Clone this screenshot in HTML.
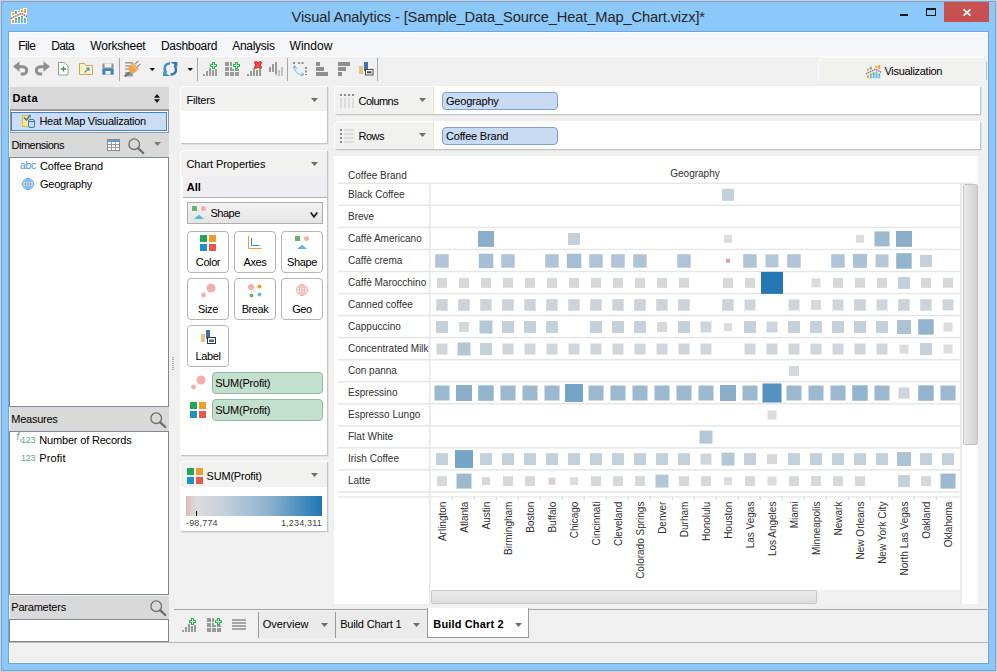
<!DOCTYPE html>
<html lang="en"><head><meta charset="utf-8"><title>Visual Analytics</title>
<style>
*{box-sizing:border-box;margin:0;padding:0}
html,body{width:997px;height:672px;overflow:hidden}
body{position:relative;background:#8cc8fa;font-family:"Liberation Sans",sans-serif;font-size:11px;color:#000}
.a{position:absolute}
.t{position:absolute;white-space:nowrap;line-height:1}
svg{position:absolute;overflow:visible}
</style></head>
<body>
<div class="a" style="left:0px;top:0px;width:997px;height:672px;border:1px solid #d3d0cb;"></div>
<div class="a" style="left:1px;top:1px;width:995px;height:670px;border:1px solid #6fa5dc;"></div>
<div class="a" style="left:8px;top:31px;width:981px;height:633px;border:1px solid #6fa5dc;background:#fff;"></div>
<div class="a" style="left:9px;top:32px;width:979px;height:631px;background:#f0f0f0;border-left:1px solid #fcfcfc;border-right:1px solid #faf7f3;border-bottom:1px solid #f8f8f8;"></div>
<div class="a" style="left:9px;top:32px;width:979px;height:24px;background:#f5f6f7;border-left:1px solid #fdfdfd;border-top:1px solid #fdfdfd;"></div>
<div class="a" style="left:9px;top:56px;width:975px;height:1px;background:#fafafa;"></div>
<div class="t" style="left:291.5px;top:9.5px;font-size:14.7px;letter-spacing:-0.14px;color:#262626;">Visual Analytics - [Sample_Data_Source_Heat_Map_Chart.vizx]*</div>
<div class="a" style="left:944px;top:2px;width:45px;height:20px;background:#c75050;"></div>
<svg style="left:963px;top:9px" width="8" height="7" viewBox="0 0 8 7"><path d="M0.600 0.300L7.400 6.700M7.400 0.300L0.600 6.700" stroke="#fff" stroke-width="1.700" fill="none"/></svg>
<div class="a" style="left:926px;top:8px;width:10px;height:8px;border:1px solid #1a1a1a;border-top-width:2px;"></div>
<div class="a" style="left:900px;top:14px;width:8px;height:2px;background:#1a1a1a;"></div>
<div class="t" style="left:18.3px;top:39.5px;font-size:12px;letter-spacing:-0.6px;">File</div>
<div class="t" style="left:51.2px;top:39.5px;font-size:12px;letter-spacing:-0.65px;">Data</div>
<div class="t" style="left:90.3px;top:39.5px;font-size:12px;letter-spacing:-0.22px;">Worksheet</div>
<div class="t" style="left:161px;top:39.5px;font-size:12px;letter-spacing:-0.3px;">Dashboard</div>
<div class="t" style="left:232.3px;top:39.5px;font-size:12px;letter-spacing:-0.3px;">Analysis</div>
<div class="t" style="left:289.5px;top:39.5px;font-size:12px;letter-spacing:0.05px;">Window</div>
<svg style="left:11px;top:8px" width="16.0" height="16.0" viewBox="0 0 16 16">
<path d="M0 4H3V2H7V4H9V1H12V0H16V16H0Z" fill="#fdf9f2"/>
<rect x="1" y="5" width="2" height="2" fill="#fca311"/><rect x="1" y="12" width="2" height="3" fill="#fca311"/>
<rect x="4" y="3" width="2" height="2.800" fill="#5fae57"/><rect x="4" y="10.200" width="2" height="1.800" fill="#5fae57"/><rect x="4" y="12" width="2" height="3" fill="#5bc0f8"/>
<rect x="7" y="9" width="2" height="3" fill="#5fae57"/><rect x="7" y="12" width="2" height="3" fill="#5bc0f8"/>
<rect x="10" y="2" width="2" height="2" fill="#fca311"/><rect x="10" y="8" width="2" height="1" fill="#5fae57"/><rect x="10" y="9" width="2" height="6" fill="#5bc0f8"/>
<rect x="13" y="1" width="2" height="4" fill="#fca311"/><rect x="13" y="10.200" width="2" height="1.800" fill="#5fae57"/><rect x="13" y="12" width="2" height="3" fill="#5bc0f8"/>
<path d="M0 10.500L10 5.500L16 8.500" stroke="#f7b9a3" stroke-width="1.500" fill="none"/>
<path d="M0 10.500L10 5.500L16 8.500" stroke="#8068cf" stroke-width="1.500" fill="none" stroke-dasharray="1.200 1.200"/>
</svg>
<svg style="left:0;top:0" width="997" height="90" viewBox="0 0 997 90"><path d="M13 66.500L19.500 61.200V71.800z" fill="#8e8e8e"/><path d="M19 66.700H23a3.700 3.700 0 0 1 0 7.400H20.800" fill="none" stroke="#8e8e8e" stroke-width="3"/><path d="M50 66.500L43.500 61.200V71.800z" fill="#8e8e8e"/><path d="M44 66.700H40a3.700 3.700 0 0 0 0 7.400H42.200" fill="none" stroke="#8e8e8e" stroke-width="3"/><path d="M58.5 62.5h6l3.5 3.5v9h-9.500z" fill="#fff" stroke="#9a9a9a"/><path d="M61 69h5M63.500 66.500v5" stroke="#2e9b3e" stroke-width="1.3"/><path d="M79.500 74.500v-11h5l1.500 2h6.500v9z" fill="#fdf3c4" stroke="#c9a45c"/><path d="M84.500 72.500l4.500-4.500m-3 0h3v3" stroke="#3d8fd0" fill="none" stroke-width="1.1"/><path d="M102.500 63.500h11v11h-11z" fill="#8e8e8e"/><rect x="104.500" y="63.500" width="7" height="4" fill="#f0f0f0"/><rect x="102.500" y="69" width="11" height="5.500" fill="#3a86c8"/><rect x="105.500" y="71" width="5" height="3.500" fill="#f0f0f0"/><rect x="119" y="58" width="1" height="23" fill="#a8a8a8"/><rect x="197" y="58" width="1" height="23" fill="#a8a8a8"/><rect x="287" y="58" width="1" height="23" fill="#a8a8a8"/><rect x="377" y="58" width="1" height="23" fill="#a8a8a8"/><g transform="translate(124,61)"><path d="M1.200 1.800h7.600M1.200 4.900h6M1.200 8h4" stroke="#9a9a9a" stroke-width="1.500"/><rect x="1.200" y="11" width="7.600" height="4.500" fill="#9a9a9a"/><path d="M0.500 15.500L6.500 11" stroke="#6a6a6a" stroke-width="1.600"/><path d="M11 3.200l3.200-3.200M13.400 6l3-3.200" stroke="#8a8a8a" stroke-width="1.100"/><path d="M4.200 7.200L9 1.300 14.800 8 9.800 12.300 6 12z" fill="#eea44e"/><path d="M7.800 3.200L13.200 9.400" stroke="#f6cf9a" stroke-width="1"/><rect x="5.600" y="11.600" width="1.200" height="1.200" fill="#2ecc40"/></g><path d="M149.500 68h5.500l-2.750 3z" fill="#111"/><g fill="none" stroke-width="2.500"><path d="M170 63.500C166.800 63 164.300 65.600 164.600 68.800C164.700 70.400 165.300 71.800 166.300 72.800" stroke="#3f8fcc"/><path d="M170.600 74.500C173.800 75 176.300 72.400 176 69.200C175.900 67.600 175.300 66.200 174.300 65.200" stroke="#2f7ab8"/><path d="M163.200 71.200V76H170z" fill="#3f8fcc" stroke="none"/><path d="M177.400 66.800V62H170.600z" fill="#2f7ab8" stroke="none"/></g><path d="M187.500 68h5.500l-2.750 3z" fill="#111"/><g transform="translate(203,62)"><rect x="0" y="12" width="2" height="2" fill="#9a9a9a"/><rect x="3" y="9" width="2" height="5" fill="#9a9a9a"/><rect x="6" y="6" width="2" height="8" fill="#9a9a9a"/><rect x="9" y="8" width="2" height="6" fill="#9a9a9a"/><rect x="12" y="7" width="2" height="7" fill="#9a9a9a"/></g><g transform="translate(210,62)"><path d="M2 0h3v2h2v3h-2v2h-3v-2h-2v-3h2z" fill="#1ebd48"/><path d="M3 1h1v2h2v1h-2v2h-1v-2h-2v-1h2z" fill="#dcffe2"/></g><g transform="translate(225,62)"><rect x="0" y="0" width="4" height="4" fill="#9a9a9a"/><rect x="0" y="5" width="4" height="4" fill="#9a9a9a"/><rect x="0" y="10" width="4" height="4" fill="#9a9a9a"/><rect x="5" y="0" width="4" height="4" fill="#9a9a9a"/><rect x="5" y="5" width="4" height="4" fill="#9a9a9a"/><rect x="5" y="10" width="4" height="4" fill="#9a9a9a"/><rect x="10" y="0" width="4" height="4" fill="#9a9a9a"/><rect x="10" y="5" width="4" height="4" fill="#9a9a9a"/><rect x="10" y="10" width="4" height="4" fill="#9a9a9a"/></g><rect x="232" y="61" width="8" height="8" fill="#f0f0f0"/><g transform="translate(233,62)"><path d="M2 0h3v2h2v3h-2v2h-3v-2h-2v-3h2z" fill="#1ebd48"/><path d="M3 1h1v2h2v1h-2v2h-1v-2h-2v-1h2z" fill="#dcffe2"/></g><g transform="translate(247,62)"><rect x="0" y="12" width="2" height="2" fill="#9a9a9a"/><rect x="3" y="9" width="2" height="5" fill="#9a9a9a"/><rect x="6" y="6" width="2" height="8" fill="#9a9a9a"/><rect x="9" y="8" width="2" height="6" fill="#9a9a9a"/><rect x="12" y="7" width="2" height="7" fill="#9a9a9a"/></g><g transform="translate(254.500,61.500)"><path d="M0.300 0.300h1.900l1.300 1.300 1.300-1.300h1.900v1.900l-1.300 1.300 1.300 1.300v1.900h-1.900l-1.300-1.300-1.300 1.300h-1.900v-1.900l1.300-1.300-1.300-1.300z" fill="#ff4a42" stroke="#c8140e" stroke-width=".9"/></g><g transform="translate(269,62)"><rect x="0" y="5" width="2" height="5" fill="#9a9a9a"/><rect x="3" y="2" width="2" height="8" fill="#9a9a9a"/><rect x="6" y="0" width="2" height="12" fill="#9a9a9a"/><rect x="6" y="12" width="2" height="2" fill="#cfcfcf"/><rect x="9" y="8" width="2" height="6" fill="#c4c4c4"/><rect x="12" y="5" width="2" height="9" fill="#c4c4c4"/></g><g transform="translate(293,62)"><path d="M0 1h2M5 1h6" stroke="#8e8e8e" stroke-width="2" stroke-dasharray="2 1.500"/><path d="M13 5v8" stroke="#8e8e8e" stroke-width="2" stroke-dasharray="2 1.500"/><path d="M1.500 4 C1.500 10 5 13 10.500 12.500" stroke="#64aee6" fill="none" stroke-width="0.900"/><path d="M0 6.500L1.500 3.500 3.500 6.500M8.500 10.500l2.500 2-3 1.500" stroke="#64aee6" fill="none" stroke-width="0.900"/></g><g transform="translate(316,62)" fill="#8e8e8e"><rect x="0" y="0" width="4" height="4"/><rect x="0" y="5" width="8" height="4"/><rect x="0" y="10" width="12" height="4"/></g><g transform="translate(338,62)" fill="#8e8e8e"><rect x="0" y="0" width="12" height="4"/><rect x="0" y="5" width="8" height="4"/><rect x="0" y="10" width="4" height="4"/></g><g transform="translate(359,62)"><rect x="0" y="4" width="4" height="8" fill="#ecc37e"/><rect x="5" y="0" width="4" height="9" fill="#3a72b0"/><rect x="6.500" y="7.500" width="7.500" height="5.500" fill="#fff" stroke="#3a3a3a" stroke-width="0.900"/><rect x="8" y="9.200" width="4.500" height="2.200" fill="#555"/></g></svg>
<div class="a" style="left:818px;top:57px;width:170px;height:24px;background:#f1f1f0;border:1px solid #fbfbfb;border-right:none;border-bottom:none;border-radius:6px 4px 0 0;"></div>
<div class="a" style="left:986px;top:62px;width:1px;height:18px;background:#c2c2c2;"></div>
<svg style="left:865.5px;top:63.5px" width="15.2" height="15.2" viewBox="0 0 16 16">
<path d="M0 4H3V2H7V4H9V1H12V0H16V16H0Z" fill="none"/>
<rect x="1" y="5" width="2" height="2" fill="#fca311"/><rect x="1" y="12" width="2" height="3" fill="#fca311"/>
<rect x="4" y="3" width="2" height="2.800" fill="#5fae57"/><rect x="4" y="10.200" width="2" height="1.800" fill="#5fae57"/><rect x="4" y="12" width="2" height="3" fill="#5bc0f8"/>
<rect x="7" y="9" width="2" height="3" fill="#5fae57"/><rect x="7" y="12" width="2" height="3" fill="#5bc0f8"/>
<rect x="10" y="2" width="2" height="2" fill="#fca311"/><rect x="10" y="8" width="2" height="1" fill="#5fae57"/><rect x="10" y="9" width="2" height="6" fill="#5bc0f8"/>
<rect x="13" y="1" width="2" height="4" fill="#fca311"/><rect x="13" y="10.200" width="2" height="1.800" fill="#5fae57"/><rect x="13" y="12" width="2" height="3" fill="#5bc0f8"/>
<path d="M0 10.500L10 5.500L16 8.500" stroke="#f7b9a3" stroke-width="1.500" fill="none"/>
<path d="M0 10.500L10 5.500L16 8.500" stroke="#8068cf" stroke-width="1.500" fill="none" stroke-dasharray="1.200 1.200"/>
</svg>
<div class="t" style="left:884.5px;top:66.2px;font-size:11px;letter-spacing:-0.3px;">Visualization</div>
<div class="a" style="left:10px;top:87px;width:159px;height:23px;background:#d9d9d9;border-bottom:1px solid #9c9c9c;"></div>
<div class="t" style="left:12.5px;top:92.7px;font-size:11px;font-weight:bold;letter-spacing:0.4px;">Data</div>
<svg style="left:154.400px;top:93.600px" width="6" height="9" viewBox="0 0 6 9"><path d="M0 3.700L3 0 6 3.700zM0 5.300L3 9 6 5.300z" fill="#111"/></svg>
<div class="a" style="left:10px;top:110px;width:159px;height:23px;background:#fdfdfd;border:1px solid #8f96a0;"></div>
<div class="a" style="left:11px;top:112px;width:156px;height:19px;background:#cbdcf4;border:1px solid #3f7fd6;"></div>
<svg style="left:22px;top:114px" width="14" height="14" viewBox="0 0 14 14"><rect x="0.500" y="1.500" width="8" height="11" fill="#fbe88a" stroke="#d8bf4a"/><path d="M2 3.500l2.500 2.500 4-5" stroke="#2f6fb8" stroke-width="1.400" fill="none"/><rect x="6.500" y="5.500" width="6" height="8" rx="1.500" fill="#c9dcf2" stroke="#3d78b8"/><path d="M6.500 7.500h6" stroke="#3d78b8"/></svg>
<div class="t" style="left:39.4px;top:116px;font-size:11px;letter-spacing:-0.26px;">Heat Map Visualization</div>
<div class="a" style="left:10px;top:133px;width:159px;height:24px;background:#d9d9d9;"></div>
<div class="t" style="left:11.5px;top:140.2px;font-size:11px;letter-spacing:-0.5px;">Dimensions</div>
<svg style="left:107px;top:139px" width="13" height="12" viewBox="0 0 13 12"><rect x="0.500" y="0.500" width="12" height="11" fill="#fff" stroke="#8a8a8a"/><rect x="1" y="1" width="11" height="2" fill="#5b9bd5"/><path d="M1 5.500h11M1 8.500h11M4.500 3v8.500M8.500 3v8.500" stroke="#9a9a9a"/></svg>
<svg style="left:127.89999999999999px;top:138.10000000000002px" width="17" height="17" viewBox="0 0 17 17"><circle cx="6.200" cy="6.200" r="5.300" fill="none" stroke="#6e6e6e" stroke-width="1.300"/><path d="M10.300 10.300L15.200 15" stroke="#6e6e6e" stroke-width="2.300" stroke-linecap="round"/></svg>
<svg style="left:154.0px;top:142.0px" width="7" height="4.0" viewBox="0 0 7 4.0"><path d="M0 0h7l-3.5 4.0z" fill="#7a7a7a"/></svg>
<div class="a" style="left:9px;top:157px;width:160px;height:250px;background:#fff;border:1px solid #7f8896;"></div>
<div class="t" style="left:20px;top:160px;font-size:10.5px;color:#4a90d9;letter-spacing:-0.3px;">abc</div>
<div class="t" style="left:40px;top:161px;font-size:11px;letter-spacing:-0.13px;">Coffee Brand</div>
<svg style="left:22px;top:178px" width="12" height="12" viewBox="0 0 12 12"><circle cx="6" cy="6" r="5.500" fill="#eaf2fb" stroke="#5b9bd5" stroke-width=".9"/><ellipse cx="6" cy="6" rx="2.500" ry="5.500" fill="none" stroke="#5b9bd5" stroke-width=".8"/><path d="M0.500 6h11M1.500 3.200h9M1.500 8.800h9M6 .5v11" stroke="#5b9bd5" stroke-width=".8"/></svg>
<div class="t" style="left:40px;top:179px;font-size:11px;letter-spacing:-0.27px;">Geography</div>
<div class="a" style="left:10px;top:407px;width:159px;height:24px;background:#d9d9d9;"></div>
<div class="t" style="left:11.3px;top:413.7px;font-size:11px;letter-spacing:-0.26px;">Measures</div>
<svg style="left:149.8px;top:411.7px" width="17" height="17" viewBox="0 0 17 17"><circle cx="6.200" cy="6.200" r="5.300" fill="none" stroke="#6e6e6e" stroke-width="1.300"/><path d="M10.300 10.300L15.200 15" stroke="#6e6e6e" stroke-width="2.300" stroke-linecap="round"/></svg>
<div class="a" style="left:9px;top:431px;width:160px;height:164px;background:#fff;border:1px solid #7f8896;"></div>
<div class="t" style="left:16.5px;top:432px;font-size:10px;color:#6ea48c;font-style:italic;">f</div>
<div class="t" style="left:19.5px;top:436.5px;font-size:6px;color:#6ea48c;">x</div>
<div class="t" style="left:21px;top:436px;font-size:9px;color:#6ea48c;letter-spacing:-0.300px;">123</div>
<div class="t" style="left:39.3px;top:435.2px;font-size:11px;letter-spacing:-0.18px;">Number of Records</div>
<div class="t" style="left:21px;top:454px;font-size:9px;color:#6ea48c;letter-spacing:-0.300px;">123</div>
<div class="t" style="left:39.3px;top:453px;font-size:11px;letter-spacing:0.1px;">Profit</div>
<div class="a" style="left:10px;top:596px;width:159px;height:23px;background:#d9d9d9;"></div>
<div class="t" style="left:11.3px;top:602px;font-size:11px;letter-spacing:-0.22px;">Parameters</div>
<svg style="left:149.8px;top:600.1999999999999px" width="17" height="17" viewBox="0 0 17 17"><circle cx="6.200" cy="6.200" r="5.300" fill="none" stroke="#6e6e6e" stroke-width="1.300"/><path d="M10.300 10.300L15.200 15" stroke="#6e6e6e" stroke-width="2.300" stroke-linecap="round"/></svg>
<div class="a" style="left:9px;top:619px;width:160px;height:23px;background:#fff;border:1px solid #7f8896;"></div>
<div class="a" style="left:172px;top:356px;width:2px;height:14px;background:repeating-linear-gradient(#f0f0f0 0 1px,#b0b0b0 1px 2px);"></div>
<div class="a" style="left:180px;top:86px;width:147px;height:57px;background:#fff;border-radius:5px 0 0 0;box-shadow:1px 1px 0 #c4c4c4, 2px 2px 0 #e4e4e4;"></div><div class="a" style="left:180px;top:86px;width:147px;height:25px;background:#f1f1f0;border-radius:5px 0 0 0;border-top:1px solid #fdfdfd;border-left:1px solid #fdfdfd;"></div>
<div class="t" style="left:186.5px;top:95.2px;font-size:11px;letter-spacing:-0.2px;">Filters</div>
<svg style="left:311.0px;top:97.5px" width="7" height="4.0" viewBox="0 0 7 4.0"><path d="M0 0h7l-3.5 4.0z" fill="#6e6e6e"/></svg>
<div class="a" style="left:180px;top:150px;width:147px;height:305px;background:#fff;border-radius:5px 0 0 0;box-shadow:1px 1px 0 #c4c4c4, 2px 2px 0 #e4e4e4;"></div><div class="a" style="left:180px;top:150px;width:147px;height:26px;background:#f1f1f0;border-radius:5px 0 0 0;border-top:1px solid #fdfdfd;border-left:1px solid #fdfdfd;"></div>
<div class="t" style="left:186.5px;top:158.7px;font-size:11px;letter-spacing:-0.08px;">Chart Properties</div>
<svg style="left:311.0px;top:161.5px" width="7" height="4.0" viewBox="0 0 7 4.0"><path d="M0 0h7l-3.5 4.0z" fill="#6e6e6e"/></svg>
<div class="a" style="left:183px;top:176px;width:144px;height:22px;background:#eeeef2;border-bottom:1px solid #b4b4b4;"></div>
<div class="t" style="left:186.8px;top:181.5px;font-size:11px;font-weight:bold;">All</div>
<div class="a" style="left:187px;top:202px;width:136px;height:22px;background:linear-gradient(#f3f3f3,#e4e4e4);border:1px solid #adadad;"></div>
<svg style="left:191px;top:205px" width="16" height="16" viewBox="0 0 16 16"><rect x="1" y="1" width="5" height="5" fill="#6ab36a"/><circle cx="12.500" cy="3.500" r="2.500" fill="#f3b0aa"/><path d="M3 14h10l-5-4.300z" fill="#5bb5e8"/></svg>
<div class="t" style="left:210.5px;top:207.7px;font-size:11px;letter-spacing:-0.5px;">Shape</div>
<svg style="left:309.500px;top:211.500px" width="8" height="6" viewBox="0 0 8 6"><path d="M0.700 0.500L4 4.700 7.300 0.500" stroke="#222" stroke-width="1.800" fill="none"/></svg>
<div class="a" style="left:187px;top:231px;width:42px;height:42px;background:#fff;border:1px solid #b4b4b4;border-radius:4px;"></div>
<div class="t" style="left:187px;top:257.1px;font-size:11px;width:42px;text-align:center;letter-spacing:-0.4px;">Color</div>
<div class="a" style="left:200px;top:235px;width:7.0px;height:7.0px;background:#1fa859;"></div><div class="a" style="left:209.0px;top:235px;width:7.0px;height:7.0px;background:#f39a2b;"></div><div class="a" style="left:200px;top:244.0px;width:7.0px;height:7.0px;background:#1b93c9;"></div><div class="a" style="left:209.0px;top:244.0px;width:7.0px;height:7.0px;background:#e8584a;"></div>
<div class="a" style="left:234px;top:231px;width:42px;height:42px;background:#fff;border:1px solid #b4b4b4;border-radius:4px;"></div>
<div class="t" style="left:234px;top:257.1px;font-size:11px;width:42px;text-align:center;letter-spacing:-0.4px;">Axes</div>
<svg style="left:248px;top:236px" width="14" height="13" viewBox="0 0 14 13"><path d="M0.500 0v12.500h13" stroke="#f39a2b" fill="none"/><path d="M3.500 2v7.500h8" stroke="#1b93c9" fill="none"/></svg>
<div class="a" style="left:281px;top:231px;width:42px;height:42px;background:#fff;border:1px solid #b4b4b4;border-radius:4px;"></div>
<div class="t" style="left:281px;top:257.1px;font-size:11px;width:42px;text-align:center;letter-spacing:-0.4px;">Shape</div>
<svg style="left:294px;top:235px" width="16" height="16" viewBox="0 0 16 16"><rect x="1" y="1" width="5" height="5" fill="#6ab36a"/><circle cx="12.500" cy="3.500" r="2.500" fill="#f3b0aa"/><path d="M3 14h10l-5-4.300z" fill="#5bb5e8"/></svg>
<div class="a" style="left:187px;top:278px;width:42px;height:42px;background:#fff;border:1px solid #b4b4b4;border-radius:4px;"></div>
<div class="t" style="left:187px;top:304.1px;font-size:11px;width:42px;text-align:center;letter-spacing:-0.4px;">Size</div>
<svg style="left:199.7px;top:281.5px" width="17" height="17" viewBox="0 0 17 17"><circle cx="11" cy="6" r="4.500" fill="#f3b0aa"/><circle cx="3.500" cy="13" r="2.400" fill="#f3b0aa"/></svg>
<div class="a" style="left:234px;top:278px;width:42px;height:42px;background:#fff;border:1px solid #b4b4b4;border-radius:4px;"></div>
<div class="t" style="left:234px;top:304.1px;font-size:11px;width:42px;text-align:center;letter-spacing:-0.4px;">Break</div>
<svg style="left:247px;top:282.5px" width="16" height="16" viewBox="0 0 16 16"><circle cx="4" cy="4" r="3" fill="#f3b0aa"/><circle cx="12.500" cy="3.500" r="2" fill="#f39a2b"/><circle cx="4.500" cy="12.500" r="2" fill="#6ab36a"/><circle cx="12.500" cy="11.500" r="2" fill="#6cb8f0"/><path d="M7 5l3-1M6 7l3 3M5 8v2" stroke="#aaa" stroke-width=".7" stroke-dasharray="1 1"/></svg>
<div class="a" style="left:281px;top:278px;width:42px;height:42px;background:#fff;border:1px solid #b4b4b4;border-radius:4px;"></div>
<div class="t" style="left:281px;top:304.1px;font-size:11px;width:42px;text-align:center;letter-spacing:-0.4px;">Geo</div>
<svg style="left:296px;top:284px" width="12" height="12" viewBox="0 0 12 12"><circle cx="6" cy="6" r="5.500" fill="#fff6f5" stroke="#f0a8a2" stroke-width=".9"/><ellipse cx="6" cy="6" rx="2.500" ry="5.500" fill="none" stroke="#f0a8a2" stroke-width=".8"/><path d="M0.500 6h11M1.500 3.200h9M1.500 8.800h9M6 .5v11" stroke="#f0a8a2" stroke-width=".8"/></svg>
<div class="a" style="left:187px;top:325px;width:42px;height:42px;background:#fff;border:1px solid #b4b4b4;border-radius:4px;"></div>
<div class="t" style="left:187px;top:351.1px;font-size:11px;width:42px;text-align:center;letter-spacing:-0.4px;">Label</div>
<svg style="left:201px;top:330px" width="15" height="15" viewBox="0 0 15 15"><rect x="0" y="4" width="4" height="8" fill="#ecc37e"/><rect x="5" y="0" width="4" height="9" fill="#3a72b0"/><rect x="6.500" y="7.500" width="8" height="6" fill="#fff" stroke="#333"/><rect x="8" y="9.500" width="5" height="2.500" fill="#3a72b0"/></svg>
<div class="a" style="left:212px;top:372px;width:111px;height:22px;background:#c3dfcd;border:1px solid #93b8a2;border-radius:4px;"></div>
<div class="t" style="left:215.2px;top:377.8px;font-size:11px;letter-spacing:-0.21px;">SUM(Profit)</div>
<div class="a" style="left:212px;top:399px;width:111px;height:22px;background:#c3dfcd;border:1px solid #93b8a2;border-radius:4px;"></div>
<div class="t" style="left:215.2px;top:404.8px;font-size:11px;letter-spacing:-0.21px;">SUM(Profit)</div>
<svg style="left:190px;top:374px" width="17" height="17" viewBox="0 0 17 17"><circle cx="11" cy="6" r="4.500" fill="#f3b0aa"/><circle cx="3.500" cy="13" r="2.400" fill="#f3b0aa"/></svg>
<div class="a" style="left:190px;top:402px;width:7.0px;height:7.0px;background:#1fa859;"></div><div class="a" style="left:199.0px;top:402px;width:7.0px;height:7.0px;background:#f39a2b;"></div><div class="a" style="left:190px;top:411.0px;width:7.0px;height:7.0px;background:#1b93c9;"></div><div class="a" style="left:199.0px;top:411.0px;width:7.0px;height:7.0px;background:#e8584a;"></div>
<div class="a" style="left:180px;top:461px;width:147px;height:70px;background:#fff;border-radius:5px 0 0 0;box-shadow:1px 1px 0 #c4c4c4, 2px 2px 0 #e4e4e4;"></div><div class="a" style="left:180px;top:461px;width:147px;height:26px;background:#f1f1f0;border-radius:5px 0 0 0;border-top:1px solid #fdfdfd;border-left:1px solid #fdfdfd;"></div>
<div class="a" style="left:187px;top:468px;width:7.0px;height:7.0px;background:#1fa859;"></div><div class="a" style="left:196.0px;top:468px;width:7.0px;height:7.0px;background:#f39a2b;"></div><div class="a" style="left:187px;top:477.0px;width:7.0px;height:7.0px;background:#1b93c9;"></div><div class="a" style="left:196.0px;top:477.0px;width:7.0px;height:7.0px;background:#e8584a;"></div>
<div class="t" style="left:206.6px;top:470.5px;font-size:11px;letter-spacing:-0.21px;">SUM(Profit)</div>
<svg style="left:311.0px;top:473.0px" width="7" height="4.0" viewBox="0 0 7 4.0"><path d="M0 0h7l-3.5 4.0z" fill="#6e6e6e"/></svg>
<div class="a" style="left:186px;top:496px;width:136px;height:20px;background:linear-gradient(90deg,#e0b8b3 0%,#dcd0cf 4%,#dcdcdc 8%,#c8d3dc 25%,#8fb3cf 60%,#1f77b4 100%);"></div>
<div class="a" style="left:196px;top:511px;width:1px;height:5px;background:#000;"></div>
<div class="t" style="left:186px;top:519px;font-size:9px;color:#444;letter-spacing:0.18px;">-98,774</div>
<div class="t" style="left:280.9px;top:519px;font-size:9px;color:#444;letter-spacing:0.19px;">1,234,311</div>
<div class="a" style="left:334px;top:86px;width:646px;height:28px;background:#fff;border-radius:5px 0 0 2px;box-shadow:1px 1px 0 #c4c4c4,2px 2px 0 #e4e4e4;"></div>
<div class="a" style="left:334px;top:86px;width:100px;height:28px;background:#f1f1f0;border-radius:5px 0 0 2px;border-right:1px solid #e9e6cf;border-top:1px solid #fdfdfd;border-left:1px solid #fdfdfd;"></div>
<div class="t" style="left:358.5px;top:96.3px;font-size:11px;letter-spacing:-0.54px;">Columns</div>
<svg style="left:418.7px;top:98.0px" width="7" height="4.0" viewBox="0 0 7 4.0"><path d="M0 0h7l-3.5 4.0z" fill="#6e6e6e"/></svg>
<div class="a" style="left:442px;top:92px;width:116px;height:17.5px;background:#c9daf3;border:1px solid #7f9fd2;border-radius:4px;"></div>
<div class="t" style="left:446px;top:96.2px;font-size:11px;letter-spacing:-0.2px;">Geography</div>
<div class="a" style="left:334px;top:121px;width:646px;height:28px;background:#fff;border-radius:5px 0 0 2px;box-shadow:1px 1px 0 #c4c4c4,2px 2px 0 #e4e4e4;"></div>
<div class="a" style="left:334px;top:121px;width:100px;height:28px;background:#f1f1f0;border-radius:5px 0 0 2px;border-right:1px solid #e9e6cf;border-top:1px solid #fdfdfd;border-left:1px solid #fdfdfd;"></div>
<div class="t" style="left:358.5px;top:131.3px;font-size:11px;letter-spacing:-0.54px;">Rows</div>
<svg style="left:418.7px;top:133.0px" width="7" height="4.0" viewBox="0 0 7 4.0"><path d="M0 0h7l-3.5 4.0z" fill="#6e6e6e"/></svg>
<div class="a" style="left:442px;top:127px;width:116px;height:17.5px;background:#c9daf3;border:1px solid #7f9fd2;border-radius:4px;"></div>
<div class="t" style="left:446px;top:131.2px;font-size:11px;letter-spacing:-0.2px;">Coffee Brand</div>
<svg style="left:340px;top:94px" width="14" height="14" viewBox="0 0 14 14"><path d="M0 0h2v2h-2zM4 0h2v2h-2zM8 0h2v2h-2zM12 0h2v2h-2z" fill="#8e8e8e"/><path d="M0 4h2v10h-2zM4 4h2v10h-2zM8 4h2v10h-2zM12 4h2v10h-2z" fill="#dcdcdc"/></svg>
<svg style="left:340px;top:129px" width="14" height="14" viewBox="0 0 14 14"><path d="M0 0h2v2h-2zM0 4h2v2h-2zM0 8h2v2h-2zM0 12h2v2h-2z" fill="#8e8e8e"/><path d="M4 0h10v2h-10zM4 4h10v2h-10zM4 8h10v2h-10zM4 12h10v2h-10z" fill="#dcdcdc"/></svg>
<div class="a" style="left:334px;top:156px;width:644px;height:448px;background:#fff;"></div>
<svg style="left:0;top:0" width="997" height="672" viewBox="0 0 997 672" font-family="Liberation Sans, sans-serif" font-size="10" fill="#303030"><rect x="338" y="182.6" width="635" height="1.500" fill="#e6e6e6"/><rect x="338" y="204.64" width="623" height="1.500" fill="#e6e6e6"/><rect x="338" y="226.68" width="623" height="1.500" fill="#e6e6e6"/><rect x="338" y="248.72" width="623" height="1.500" fill="#e6e6e6"/><rect x="338" y="270.76" width="623" height="1.500" fill="#e6e6e6"/><rect x="338" y="292.8" width="623" height="1.500" fill="#e6e6e6"/><rect x="338" y="314.84" width="623" height="1.500" fill="#e6e6e6"/><rect x="338" y="336.88" width="623" height="1.500" fill="#e6e6e6"/><rect x="338" y="358.92" width="623" height="1.500" fill="#e6e6e6"/><rect x="338" y="380.96" width="623" height="1.500" fill="#e6e6e6"/><rect x="338" y="403.0" width="623" height="1.500" fill="#e6e6e6"/><rect x="338" y="425.04" width="623" height="1.500" fill="#e6e6e6"/><rect x="338" y="447.08" width="623" height="1.500" fill="#e6e6e6"/><rect x="338" y="469.12" width="623" height="1.500" fill="#e6e6e6"/><rect x="338" y="491.16" width="623" height="1.500" fill="#e6e6e6"/><rect x="429" y="183" width="1.500" height="422" fill="#e6e6e6"/><rect x="338" y="496.300" width="623" height="1.200" fill="#e6e6e6"/><rect x="960" y="183" width="2" height="421" fill="#eaeaea"/><rect x="451.7" y="496.500" width="1.100" height="4" fill="#dedede"/><rect x="473.7" y="496.500" width="1.100" height="4" fill="#dedede"/><rect x="495.7" y="496.500" width="1.100" height="4" fill="#dedede"/><rect x="517.7" y="496.500" width="1.100" height="4" fill="#dedede"/><rect x="539.7" y="496.500" width="1.100" height="4" fill="#dedede"/><rect x="561.7" y="496.500" width="1.100" height="4" fill="#dedede"/><rect x="583.7" y="496.500" width="1.100" height="4" fill="#dedede"/><rect x="605.7" y="496.500" width="1.100" height="4" fill="#dedede"/><rect x="627.7" y="496.500" width="1.100" height="4" fill="#dedede"/><rect x="649.7" y="496.500" width="1.100" height="4" fill="#dedede"/><rect x="671.7" y="496.500" width="1.100" height="4" fill="#dedede"/><rect x="693.7" y="496.500" width="1.100" height="4" fill="#dedede"/><rect x="715.7" y="496.500" width="1.100" height="4" fill="#dedede"/><rect x="737.7" y="496.500" width="1.100" height="4" fill="#dedede"/><rect x="759.7" y="496.500" width="1.100" height="4" fill="#dedede"/><rect x="781.7" y="496.500" width="1.100" height="4" fill="#dedede"/><rect x="803.7" y="496.500" width="1.100" height="4" fill="#dedede"/><rect x="825.7" y="496.500" width="1.100" height="4" fill="#dedede"/><rect x="847.7" y="496.500" width="1.100" height="4" fill="#dedede"/><rect x="869.7" y="496.500" width="1.100" height="4" fill="#dedede"/><rect x="891.7" y="496.500" width="1.100" height="4" fill="#dedede"/><rect x="913.7" y="496.500" width="1.100" height="4" fill="#dedede"/><rect x="935.7" y="496.500" width="1.100" height="4" fill="#dedede"/><text x="348" y="179">Coffee Brand</text><text x="695" y="177" text-anchor="middle">Geography</text><text x="348" y="198.3">Black Coffee</text><text x="348" y="220.3">Breve</text><text x="348" y="242.3">Caffè Americano</text><text x="348" y="264.3">Caffè crema</text><text x="348" y="286.3">Caffè Marocchino</text><text x="348" y="308.3">Canned coffee</text><text x="348" y="330.3">Cappuccino</text><text x="348" y="352.3">Concentrated Milk</text><text x="348" y="374.3">Con panna</text><text x="348" y="396.3">Espressino</text><text x="348" y="418.3">Espresso Lungo</text><text x="348" y="440.3">Flat White</text><text x="348" y="462.3">Irish Coffee</text><text x="348" y="484.3">Latte</text><text transform="translate(445.5,501.600) rotate(-90)" text-anchor="end">Arlington</text><text transform="translate(467.5,501.600) rotate(-90)" text-anchor="end">Atlanta</text><text transform="translate(489.5,501.600) rotate(-90)" text-anchor="end">Austin</text><text transform="translate(511.5,501.600) rotate(-90)" text-anchor="end">Birmingham</text><text transform="translate(533.5,501.600) rotate(-90)" text-anchor="end">Boston</text><text transform="translate(555.5,501.600) rotate(-90)" text-anchor="end">Buffalo</text><text transform="translate(577.5,501.600) rotate(-90)" text-anchor="end">Chicago</text><text transform="translate(599.5,501.600) rotate(-90)" text-anchor="end">Cincinnati</text><text transform="translate(621.5,501.600) rotate(-90)" text-anchor="end">Cleveland</text><text transform="translate(643.5,501.600) rotate(-90)" text-anchor="end">Colorado Springs</text><text transform="translate(665.5,501.600) rotate(-90)" text-anchor="end">Denver</text><text transform="translate(687.5,501.600) rotate(-90)" text-anchor="end">Durham</text><text transform="translate(709.5,501.600) rotate(-90)" text-anchor="end">Honolulu</text><text transform="translate(731.5,501.600) rotate(-90)" text-anchor="end">Houston</text><text transform="translate(753.5,501.600) rotate(-90)" text-anchor="end">Las Vegas</text><text transform="translate(775.5,501.600) rotate(-90)" text-anchor="end">Los Angeles</text><text transform="translate(797.5,501.600) rotate(-90)" text-anchor="end">Miami</text><text transform="translate(819.5,501.600) rotate(-90)" text-anchor="end">Minneapolis</text><text transform="translate(841.5,501.600) rotate(-90)" text-anchor="end">Newark</text><text transform="translate(863.5,501.600) rotate(-90)" text-anchor="end">New Orleans</text><text transform="translate(885.5,501.600) rotate(-90)" text-anchor="end">New York City</text><text transform="translate(907.5,501.600) rotate(-90)" text-anchor="end">North Las Vegas</text><text transform="translate(929.5,501.600) rotate(-90)" text-anchor="end">Oakland</text><text transform="translate(951.5,501.600) rotate(-90)" text-anchor="end">Oklahoma</text><rect x="722.0" y="188.8" width="12" height="12" fill="#c4d0da"/><rect x="478.0" y="230.9" width="16" height="16" fill="#8bafcb"/><rect x="568.0" y="232.9" width="12" height="12" fill="#c4d0da"/><rect x="724.0" y="234.9" width="8" height="8" fill="#dcdcdc"/><rect x="856.0" y="234.9" width="8" height="8" fill="#dcdcdc"/><rect x="874.5" y="231.4" width="15" height="15" fill="#9cb9d0"/><rect x="896.0" y="230.9" width="16" height="16" fill="#8bafcb"/><rect x="435.2" y="254.2" width="13.5" height="13.5" fill="#afc4d6"/><rect x="478.8" y="253.7" width="14.5" height="14.5" fill="#a6bed3"/><rect x="501.2" y="254.2" width="13.5" height="13.5" fill="#afc4d6"/><rect x="545.2" y="254.2" width="13.5" height="13.5" fill="#afc4d6"/><rect x="566.8" y="253.7" width="14.5" height="14.5" fill="#a6bed3"/><rect x="589.2" y="254.2" width="13.5" height="13.5" fill="#afc4d6"/><rect x="611.2" y="254.2" width="13.5" height="13.5" fill="#afc4d6"/><rect x="633.2" y="254.2" width="13.5" height="13.5" fill="#afc4d6"/><rect x="677.2" y="254.2" width="13.5" height="13.5" fill="#afc4d6"/><rect x="726.0" y="258.9" width="4" height="4" fill="#dba6a3"/><rect x="743.2" y="254.2" width="13.5" height="13.5" fill="#afc4d6"/><rect x="765.5" y="254.4" width="13" height="13" fill="#b4c7d6"/><rect x="787.2" y="254.2" width="13.5" height="13.5" fill="#afc4d6"/><rect x="831.2" y="254.2" width="13.5" height="13.5" fill="#afc4d6"/><rect x="853.0" y="253.9" width="14" height="14" fill="#adc2d5"/><rect x="875.5" y="254.4" width="13" height="13" fill="#b4c7d6"/><rect x="896.2" y="253.2" width="15.5" height="15.5" fill="#93b4cd"/><rect x="920.0" y="254.9" width="12" height="12" fill="#c4d0da"/><rect x="437.0" y="277.9" width="10" height="10" fill="#d6d9dc"/><rect x="459.0" y="277.9" width="10" height="10" fill="#d6d9dc"/><rect x="481.0" y="277.9" width="10" height="10" fill="#d6d9dc"/><rect x="503.0" y="277.9" width="10" height="10" fill="#d6d9dc"/><rect x="525.0" y="277.9" width="10" height="10" fill="#d6d9dc"/><rect x="547.0" y="277.9" width="10" height="10" fill="#d6d9dc"/><rect x="569.0" y="277.9" width="10" height="10" fill="#d6d9dc"/><rect x="591.0" y="277.9" width="10" height="10" fill="#d6d9dc"/><rect x="613.0" y="277.9" width="10" height="10" fill="#d6d9dc"/><rect x="635.0" y="277.9" width="10" height="10" fill="#d6d9dc"/><rect x="657.0" y="277.9" width="10" height="10" fill="#d6d9dc"/><rect x="679.0" y="277.9" width="10" height="10" fill="#d6d9dc"/><rect x="723.0" y="277.9" width="10" height="10" fill="#d6d9dc"/><rect x="745.0" y="277.9" width="10" height="10" fill="#d6d9dc"/><rect x="761.0" y="271.9" width="22" height="22" fill="#2577b3"/><rect x="811.5" y="278.4" width="9" height="9" fill="#dadbdc"/><rect x="833.0" y="277.9" width="10" height="10" fill="#d6d9dc"/><rect x="855.0" y="277.9" width="10" height="10" fill="#d6d9dc"/><rect x="877.0" y="277.9" width="10" height="10" fill="#d6d9dc"/><rect x="898.0" y="276.9" width="12" height="12" fill="#c4d0da"/><rect x="921.0" y="277.9" width="10" height="10" fill="#d6d9dc"/><rect x="943.0" y="277.9" width="10" height="10" fill="#d6d9dc"/><rect x="436.2" y="299.2" width="11.5" height="11.5" fill="#ccd3db"/><rect x="458.2" y="299.2" width="11.5" height="11.5" fill="#ccd3db"/><rect x="480.2" y="299.2" width="11.5" height="11.5" fill="#ccd3db"/><rect x="502.2" y="299.2" width="11.5" height="11.5" fill="#ccd3db"/><rect x="524.2" y="299.2" width="11.5" height="11.5" fill="#ccd3db"/><rect x="546.2" y="299.2" width="11.5" height="11.5" fill="#ccd3db"/><rect x="568.2" y="299.2" width="11.5" height="11.5" fill="#ccd3db"/><rect x="590.2" y="299.2" width="11.5" height="11.5" fill="#ccd3db"/><rect x="612.2" y="299.2" width="11.5" height="11.5" fill="#ccd3db"/><rect x="634.2" y="299.2" width="11.5" height="11.5" fill="#ccd3db"/><rect x="656.2" y="299.2" width="11.5" height="11.5" fill="#ccd3db"/><rect x="678.2" y="299.2" width="11.5" height="11.5" fill="#ccd3db"/><rect x="722.2" y="299.2" width="11.5" height="11.5" fill="#ccd3db"/><rect x="744.5" y="299.4" width="11" height="11" fill="#ced5dc"/><rect x="788.5" y="299.4" width="11" height="11" fill="#ced5dc"/><rect x="811.0" y="299.9" width="10" height="10" fill="#d6d9dc"/><rect x="832.5" y="299.4" width="11" height="11" fill="#ced5dc"/><rect x="854.2" y="299.2" width="11.5" height="11.5" fill="#ccd3db"/><rect x="876.5" y="299.4" width="11" height="11" fill="#ced5dc"/><rect x="898.2" y="299.2" width="11.5" height="11.5" fill="#ccd3db"/><rect x="920.2" y="299.2" width="11.5" height="11.5" fill="#ccd3db"/><rect x="942.5" y="299.4" width="11" height="11" fill="#ced5dc"/><rect x="436.0" y="321.0" width="12" height="12" fill="#c4d0da"/><rect x="459.0" y="322.0" width="10" height="10" fill="#d6d9dc"/><rect x="479.5" y="320.5" width="13" height="13" fill="#b4c7d6"/><rect x="502.0" y="321.0" width="12" height="12" fill="#c4d0da"/><rect x="524.0" y="321.0" width="12" height="12" fill="#c4d0da"/><rect x="546.0" y="321.0" width="12" height="12" fill="#c4d0da"/><rect x="590.0" y="321.0" width="12" height="12" fill="#c4d0da"/><rect x="612.0" y="321.0" width="12" height="12" fill="#c4d0da"/><rect x="634.0" y="321.0" width="12" height="12" fill="#c4d0da"/><rect x="657.0" y="322.0" width="10" height="10" fill="#d6d9dc"/><rect x="678.0" y="321.0" width="12" height="12" fill="#c4d0da"/><rect x="700.5" y="321.5" width="11" height="11" fill="#ced5dc"/><rect x="724.0" y="323.0" width="8" height="8" fill="#dcdcdc"/><rect x="744.0" y="321.0" width="12" height="12" fill="#c4d0da"/><rect x="766.5" y="321.5" width="11" height="11" fill="#ced5dc"/><rect x="788.0" y="321.0" width="12" height="12" fill="#c4d0da"/><rect x="810.0" y="321.0" width="12" height="12" fill="#c4d0da"/><rect x="832.0" y="321.0" width="12" height="12" fill="#c4d0da"/><rect x="854.0" y="321.0" width="12" height="12" fill="#c4d0da"/><rect x="876.0" y="321.0" width="12" height="12" fill="#c4d0da"/><rect x="897.0" y="320.0" width="14" height="14" fill="#adc2d5"/><rect x="918.2" y="319.2" width="15.5" height="15.5" fill="#93b4cd"/><rect x="943.5" y="322.5" width="9" height="9" fill="#dadbdc"/><rect x="436.5" y="343.5" width="11" height="11" fill="#ced5dc"/><rect x="457.5" y="342.5" width="13" height="13" fill="#b4c7d6"/><rect x="480.0" y="343.0" width="12" height="12" fill="#c4d0da"/><rect x="502.5" y="343.5" width="11" height="11" fill="#ced5dc"/><rect x="524.5" y="343.5" width="11" height="11" fill="#ced5dc"/><rect x="546.5" y="343.5" width="11" height="11" fill="#ced5dc"/><rect x="568.5" y="343.5" width="11" height="11" fill="#ced5dc"/><rect x="590.5" y="343.5" width="11" height="11" fill="#ced5dc"/><rect x="612.5" y="343.5" width="11" height="11" fill="#ced5dc"/><rect x="634.5" y="343.5" width="11" height="11" fill="#ced5dc"/><rect x="656.5" y="343.5" width="11" height="11" fill="#ced5dc"/><rect x="678.5" y="343.5" width="11" height="11" fill="#ced5dc"/><rect x="700.5" y="343.5" width="11" height="11" fill="#ced5dc"/><rect x="744.5" y="343.5" width="11" height="11" fill="#ced5dc"/><rect x="766.5" y="343.5" width="11" height="11" fill="#ced5dc"/><rect x="788.5" y="343.5" width="11" height="11" fill="#ced5dc"/><rect x="810.5" y="343.5" width="11" height="11" fill="#ced5dc"/><rect x="832.5" y="343.5" width="11" height="11" fill="#ced5dc"/><rect x="854.5" y="343.5" width="11" height="11" fill="#ced5dc"/><rect x="876.5" y="343.5" width="11" height="11" fill="#ced5dc"/><rect x="899.5" y="344.5" width="9" height="9" fill="#dadbdc"/><rect x="920.0" y="343.0" width="12" height="12" fill="#c4d0da"/><rect x="943.5" y="344.5" width="9" height="9" fill="#dadbdc"/><rect x="789.0" y="366.0" width="10" height="10" fill="#d6d9dc"/><rect x="434.5" y="385.5" width="15" height="15" fill="#9cb9d0"/><rect x="456.0" y="385.0" width="16" height="16" fill="#8bafcb"/><rect x="478.2" y="385.3" width="15.5" height="15.5" fill="#93b4cd"/><rect x="500.5" y="385.5" width="15" height="15" fill="#9cb9d0"/><rect x="522.5" y="385.5" width="15" height="15" fill="#9cb9d0"/><rect x="544.5" y="385.5" width="15" height="15" fill="#9cb9d0"/><rect x="565.0" y="384.0" width="18" height="18" fill="#76a4c7"/><rect x="588.5" y="385.5" width="15" height="15" fill="#9cb9d0"/><rect x="610.5" y="385.5" width="15" height="15" fill="#9cb9d0"/><rect x="632.5" y="385.5" width="15" height="15" fill="#9cb9d0"/><rect x="654.5" y="385.5" width="15" height="15" fill="#9cb9d0"/><rect x="676.5" y="385.5" width="15" height="15" fill="#9cb9d0"/><rect x="698.5" y="385.5" width="15" height="15" fill="#9cb9d0"/><rect x="720.0" y="385.0" width="16" height="16" fill="#8bafcb"/><rect x="742.5" y="385.5" width="15" height="15" fill="#9cb9d0"/><rect x="762.5" y="383.5" width="19" height="19" fill="#5592bf"/><rect x="786.5" y="385.5" width="15" height="15" fill="#9cb9d0"/><rect x="808.5" y="385.5" width="15" height="15" fill="#9cb9d0"/><rect x="830.5" y="385.5" width="15" height="15" fill="#9cb9d0"/><rect x="852.2" y="385.3" width="15.5" height="15.5" fill="#93b4cd"/><rect x="874.5" y="385.5" width="15" height="15" fill="#9cb9d0"/><rect x="898.5" y="387.5" width="11" height="11" fill="#ced5dc"/><rect x="918.2" y="385.3" width="15.5" height="15.5" fill="#93b4cd"/><rect x="940.5" y="385.5" width="15" height="15" fill="#9cb9d0"/><rect x="767.5" y="410.5" width="9" height="9" fill="#dadbdc"/><rect x="699.5" y="430.6" width="13" height="13" fill="#b4c7d6"/><rect x="436.0" y="453.1" width="12" height="12" fill="#c4d0da"/><rect x="455.0" y="450.1" width="18" height="18" fill="#76a4c7"/><rect x="480.0" y="453.1" width="12" height="12" fill="#c4d0da"/><rect x="502.0" y="453.1" width="12" height="12" fill="#c4d0da"/><rect x="524.0" y="453.1" width="12" height="12" fill="#c4d0da"/><rect x="546.0" y="453.1" width="12" height="12" fill="#c4d0da"/><rect x="568.0" y="453.1" width="12" height="12" fill="#c4d0da"/><rect x="590.0" y="453.1" width="12" height="12" fill="#c4d0da"/><rect x="612.0" y="453.1" width="12" height="12" fill="#c4d0da"/><rect x="634.0" y="453.1" width="12" height="12" fill="#c4d0da"/><rect x="656.0" y="453.1" width="12" height="12" fill="#c4d0da"/><rect x="678.0" y="453.1" width="12" height="12" fill="#c4d0da"/><rect x="700.5" y="453.6" width="11" height="11" fill="#ced5dc"/><rect x="721.5" y="452.6" width="13" height="13" fill="#b4c7d6"/><rect x="744.0" y="453.1" width="12" height="12" fill="#c4d0da"/><rect x="767.0" y="454.1" width="10" height="10" fill="#d6d9dc"/><rect x="788.0" y="453.1" width="12" height="12" fill="#c4d0da"/><rect x="810.0" y="453.1" width="12" height="12" fill="#c4d0da"/><rect x="832.0" y="453.1" width="12" height="12" fill="#c4d0da"/><rect x="854.0" y="453.1" width="12" height="12" fill="#c4d0da"/><rect x="876.0" y="453.1" width="12" height="12" fill="#c4d0da"/><rect x="897.0" y="452.1" width="14" height="14" fill="#adc2d5"/><rect x="920.0" y="453.1" width="12" height="12" fill="#c4d0da"/><rect x="942.0" y="453.1" width="12" height="12" fill="#c4d0da"/><rect x="437.0" y="476.1" width="10" height="10" fill="#d6d9dc"/><rect x="456.5" y="473.6" width="15" height="15" fill="#9cb9d0"/><rect x="482.0" y="477.1" width="8" height="8" fill="#ddd6d6"/><rect x="503.0" y="476.1" width="10" height="10" fill="#d6d9dc"/><rect x="525.0" y="476.1" width="10" height="10" fill="#d6d9dc"/><rect x="548.5" y="477.6" width="7" height="7" fill="#dccfcf"/><rect x="570.0" y="477.1" width="8" height="8" fill="#dcdcdc"/><rect x="591.0" y="476.1" width="10" height="10" fill="#d6d9dc"/><rect x="613.0" y="476.1" width="10" height="10" fill="#d6d9dc"/><rect x="635.0" y="476.1" width="10" height="10" fill="#d6d9dc"/><rect x="655.5" y="474.6" width="13" height="13" fill="#b4c7d6"/><rect x="679.0" y="476.1" width="10" height="10" fill="#d6d9dc"/><rect x="701.0" y="476.1" width="10" height="10" fill="#d6d9dc"/><rect x="724.0" y="477.1" width="8" height="8" fill="#dcdcdc"/><rect x="745.0" y="476.1" width="10" height="10" fill="#d6d9dc"/><rect x="767.5" y="476.6" width="9" height="9" fill="#dadbdc"/><rect x="789.0" y="476.1" width="10" height="10" fill="#d6d9dc"/><rect x="811.0" y="476.1" width="10" height="10" fill="#d6d9dc"/><rect x="833.0" y="476.1" width="10" height="10" fill="#d6d9dc"/><rect x="855.0" y="476.1" width="10" height="10" fill="#d6d9dc"/><rect x="898.0" y="475.1" width="12" height="12" fill="#c4d0da"/><rect x="921.0" y="476.1" width="10" height="10" fill="#d6d9dc"/><rect x="940.5" y="473.6" width="15" height="15" fill="#9cb9d0"/></svg>
<div class="a" style="left:963px;top:184px;width:15px;height:261px;background:linear-gradient(90deg,#e9e9e9,#d2d2d2);border:1px solid #c4c4c4;border-radius:2px;"></div>
<div class="a" style="left:431px;top:590px;width:529px;height:14px;background:#f1f1f1;"></div>
<div class="a" style="left:431px;top:590px;width:386px;height:14px;background:linear-gradient(#ececec,#dcdcdc);border:1px solid #c8c8c8;border-radius:2px;"></div>
<div class="a" style="left:174px;top:609px;width:813px;height:1px;background:#a6a6a6;"></div>
<div class="a" style="left:9px;top:642px;width:979px;height:1px;background:#b8b8b8;"></div>
<div class="a" style="left:258px;top:612px;width:77px;height:26px;background:#ebebeb;border-left:1px solid #9a9a9a;"></div>
<div class="a" style="left:335px;top:612px;width:92px;height:26px;background:#ebebeb;border-left:1px solid #9a9a9a;"></div>
<div class="a" style="left:427px;top:608px;width:102px;height:30px;background:#fff;border:1px solid #9a9a9a;border-top:none;"></div>
<div class="t" style="left:262.7px;top:618.7px;font-size:11px;">Overview</div>
<svg style="left:321.0px;top:622.5px" width="7" height="4.0" viewBox="0 0 7 4.0"><path d="M0 0h7l-3.5 4.0z" fill="#6e6e6e"/></svg>
<div class="t" style="left:340.2px;top:618.7px;font-size:11px;letter-spacing:-0.17px;">Build Chart 1</div>
<svg style="left:413.0px;top:622.5px" width="7" height="4.0" viewBox="0 0 7 4.0"><path d="M0 0h7l-3.5 4.0z" fill="#6e6e6e"/></svg>
<div class="t" style="left:433.3px;top:618.7px;font-size:11px;font-weight:bold;letter-spacing:0.15px;">Build Chart 2</div>
<svg style="left:515.0px;top:622.5px" width="7" height="4.0" viewBox="0 0 7 4.0"><path d="M0 0h7l-3.5 4.0z" fill="#6e6e6e"/></svg>
<svg style="left:0;top:0" width="997" height="672" viewBox="0 0 997 672"><g transform="translate(182,618)"><rect x="0" y="12" width="2" height="2" fill="#9a9a9a"/><rect x="3" y="9" width="2" height="5" fill="#9a9a9a"/><rect x="6" y="6" width="2" height="8" fill="#9a9a9a"/><rect x="9" y="8" width="2" height="6" fill="#9a9a9a"/><rect x="12" y="7" width="2" height="7" fill="#9a9a9a"/></g><g transform="translate(189,618)"><path d="M2 0h3v2h2v3h-2v2h-3v-2h-2v-3h2z" fill="#1ebd48"/><path d="M3 1h1v2h2v1h-2v2h-1v-2h-2v-1h2z" fill="#dcffe2"/></g><g transform="translate(207,618)"><rect x="0" y="0" width="4" height="4" fill="#9a9a9a"/><rect x="0" y="5" width="4" height="4" fill="#9a9a9a"/><rect x="0" y="10" width="4" height="4" fill="#9a9a9a"/><rect x="5" y="0" width="4" height="4" fill="#9a9a9a"/><rect x="5" y="5" width="4" height="4" fill="#9a9a9a"/><rect x="5" y="10" width="4" height="4" fill="#9a9a9a"/><rect x="10" y="0" width="4" height="4" fill="#9a9a9a"/><rect x="10" y="5" width="4" height="4" fill="#9a9a9a"/><rect x="10" y="10" width="4" height="4" fill="#9a9a9a"/></g><rect x="214" y="617" width="8" height="8" fill="#f0f0f0"/><g transform="translate(215,618)"><path d="M2 0h3v2h2v3h-2v2h-3v-2h-2v-3h2z" fill="#1ebd48"/><path d="M3 1h1v2h2v1h-2v2h-1v-2h-2v-1h2z" fill="#dcffe2"/></g><path d="M232 620h14M232 623h14M232 626h14M232 629h14" stroke="#8e8e8e" stroke-width="1.500"/></svg>
</body></html>
